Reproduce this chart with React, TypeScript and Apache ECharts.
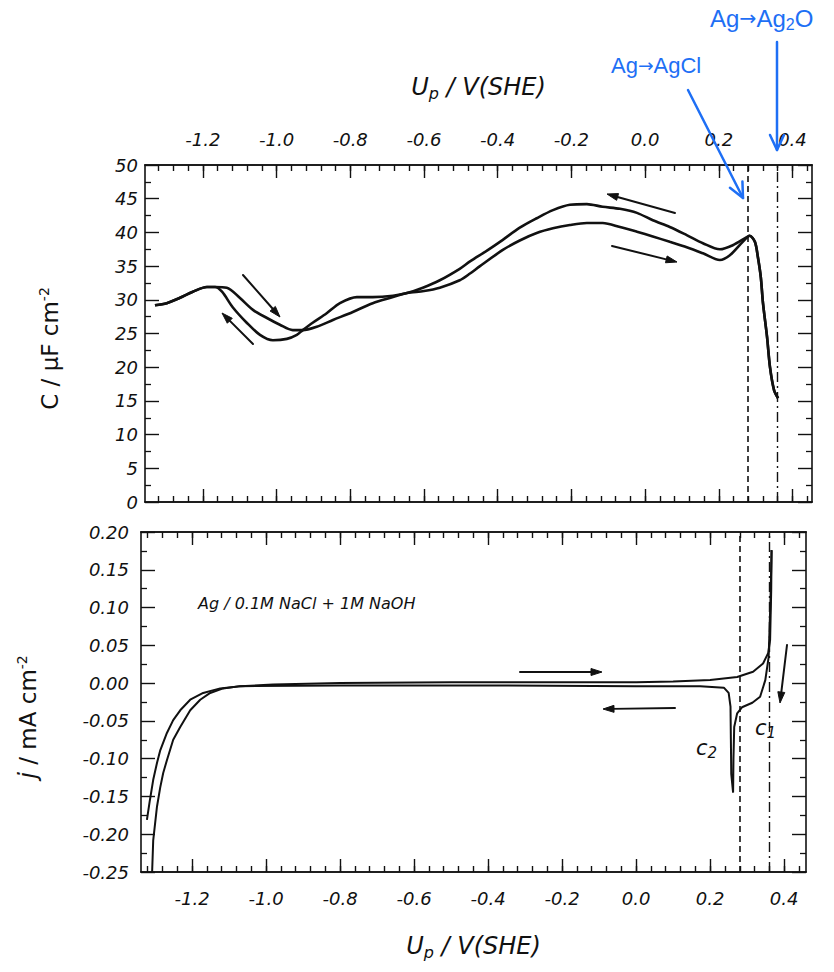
import React, { useEffect, useRef } from "react";
import * as echarts from "echarts";

// ---------- data ----------
const xMajorTicks = [-1.2, -1.0, -0.8, -0.6, -0.4, -0.2, 0.0, 0.2, 0.4];
const xMinorTicks = [
  -1.32, -1.28, -1.24, -1.2, -1.16, -1.12, -1.08, -1.04, -1.0, -0.96, -0.92, -0.88, -0.84, -0.8,
  -0.76, -0.72, -0.68, -0.64, -0.6, -0.56, -0.52, -0.48, -0.44, -0.4, -0.36, -0.32, -0.28, -0.24,
  -0.2, -0.16, -0.12, -0.08, -0.04, 0.0, 0.04, 0.08, 0.12, 0.16, 0.2, 0.24, 0.28, 0.32, 0.36, 0.4, 0.44,
];

// Capacitance C / µF cm^-2 vs U_p / V(SHE)
const capAnodic: [number, number][] = [
  [-1.33, 29.2], [-1.298, 29.5], [-1.262, 30.3], [-1.227, 31.2], [-1.189, 31.9], [-1.167, 31.9],
  [-1.135, 31.8], [-1.1, 30.3], [-1.064, 28.5], [-1.026, 27.3], [-0.991, 26.3], [-0.956, 25.5],
  [-0.929, 25.5], [-0.891, 26.0], [-0.847, 27.0], [-0.793, 28.2], [-0.739, 29.5], [-0.684, 30.4],
  [-0.646, 31.0], [-0.6, 31.3], [-0.557, 31.8], [-0.503, 32.9], [-0.475, 33.9], [-0.448, 35.0],
  [-0.386, 37.4], [-0.34, 38.8], [-0.294, 39.9], [-0.25, 40.6], [-0.204, 41.1], [-0.158, 41.4],
  [-0.115, 41.4], [-0.068, 40.8], [-0.022, 40.1], [0.021, 39.4], [0.067, 38.6], [0.113, 37.8],
  [0.157, 36.9], [0.203, 35.9], [0.23, 36.6], [0.265, 38.6], [0.284, 39.5], [0.298, 38.6],
  [0.306, 36.4], [0.314, 33.4], [0.32, 29.5], [0.331, 24.5], [0.339, 20.0], [0.35, 16.6], [0.361, 15.4],
];
const capCathodic: [number, number][] = [
  [-1.33, 29.2], [-1.298, 29.5], [-1.262, 30.3], [-1.227, 31.2], [-1.189, 31.9], [-1.167, 31.9],
  [-1.148, 31.2], [-1.119, 28.9], [-1.081, 26.6], [-1.045, 24.8], [-1.01, 24.0], [-0.972, 24.2],
  [-0.945, 24.8], [-0.929, 25.5], [-0.902, 26.6], [-0.864, 28.0], [-0.828, 29.5], [-0.782, 30.4],
  [-0.739, 30.4], [-0.684, 30.6], [-0.646, 31.0], [-0.603, 31.8], [-0.557, 32.9], [-0.503, 34.6],
  [-0.475, 35.7], [-0.429, 37.3], [-0.386, 38.9], [-0.34, 40.7], [-0.294, 42.1], [-0.25, 43.3],
  [-0.204, 44.1], [-0.158, 44.2], [-0.115, 43.8], [-0.068, 43.5], [-0.022, 42.9], [0.021, 41.8],
  [0.067, 40.8], [0.113, 39.6], [0.157, 38.4], [0.203, 37.5], [0.238, 38.1], [0.276, 39.3],
  [0.284, 39.5], [0.298, 38.6], [0.306, 36.4], [0.314, 33.4], [0.32, 29.5], [0.331, 24.5],
  [0.339, 20.0], [0.35, 16.6], [0.361, 15.4],
];

// Current density j / mA cm^-2 vs U_p / V(SHE)
const curAnodic: [number, number][] = [
  [-1.322, -0.181], [-1.314, -0.155], [-1.305, -0.128], [-1.295, -0.106], [-1.286, -0.089],
  [-1.268, -0.066], [-1.251, -0.049], [-1.232, -0.036], [-1.205, -0.022], [-1.17, -0.013],
  [-1.124, -0.007], [-1.07, -0.004], [-0.981, -0.002], [-0.8, 0.0], [-0.5, 0.001], [-0.2, 0.001],
  [0.0, 0.001], [0.1, 0.002], [0.2, 0.004], [0.273, 0.008], [0.316, 0.015], [0.343, 0.026],
  [0.357, 0.04], [0.362, 0.057], [0.365, 0.123], [0.366, 0.176],
];
const curCathodic: [number, number][] = [
  [0.366, 0.176], [0.363, 0.11], [0.358, 0.034], [0.349, 0.004], [0.335, -0.018], [0.314, -0.026],
  [0.286, -0.032], [0.273, -0.04], [0.265, -0.058], [0.263, -0.1], [0.262, -0.145], [0.257, -0.12],
  [0.256, -0.075], [0.255, -0.031], [0.25, -0.013], [0.237, -0.006], [0.173, -0.004], [0.0, -0.004],
  [-0.4, -0.003], [-0.8, -0.003], [-1.07, -0.004], [-1.116, -0.007], [-1.151, -0.013],
  [-1.178, -0.022], [-1.205, -0.036], [-1.232, -0.058], [-1.251, -0.075], [-1.268, -0.102],
  [-1.278, -0.119], [-1.286, -0.138], [-1.295, -0.164], [-1.305, -0.208], [-1.308, -0.251],
];

const agclPotential = 0.28; // Ag -> AgCl (dashed)
const ag2oPotential = 0.356; // Ag -> Ag2O (dash-dot)

const topXRange = [-1.357, 0.453];
const botXRange = [-1.338, 0.459];

// ---------- helpers ----------
const FONT = "DejaVu Sans";
const BLUE_FONT = "Liberation Sans";
const BLUE = "#1e6ff5";

function arrow(x1: number, y1: number, x2: number, y2: number, o: any) {
  const dx = x2 - x1, dy = y2 - y1;
  const L = Math.hypot(dx, dy);
  const ux = dx / L, uy = dy / L;
  const bx = x2 - ux * o.head, by = y2 - uy * o.head;
  const px = -uy * o.half, py = ux * o.half;
  const els: any[] = [];
  const ex = o.open ? x2 : bx + ux * 2;
  const ey = o.open ? y2 : by + uy * 2;
  els.push({ type: "line", z: 100, shape: { x1, y1, x2: ex, y2: ey }, style: { stroke: o.color, lineWidth: o.width, lineCap: "round" } });
  const pts = [[bx + px, by + py], [x2, y2], [bx - px, by - py]];
  if (o.open) {
    els.push({ type: "polyline", z: 100, shape: { points: pts }, style: { stroke: o.color, lineWidth: o.width, fill: null, lineCap: "round", lineJoin: "round" } });
  } else {
    els.push({ type: "polygon", z: 100, shape: { points: pts }, style: { fill: o.color, stroke: o.color, lineWidth: 1 } });
  }
  return els;
}

const tickLabel = { fontFamily: FONT, fontStyle: "italic", fontSize: 18, color: "#111" };

function xAxis(gridIndex: number, position: string, range: number[], ticks: number[], len: number, labels: boolean, extra: any = {}) {
  return {
    type: "value", gridIndex, position, min: range[0], max: range[1],
    axisLine: { show: true, onZero: false, lineStyle: { color: "#111", width: 1.6 } },
    axisTick: { show: true, inside: true, length: len, customValues: ticks, lineStyle: { color: "#111", width: 1.4 } },
    axisLabel: labels
      ? { show: true, customValues: xMajorTicks, margin: 17, formatter: (v: number) => (Math.abs(v) < 1e-9 ? "0.0" : v.toFixed(1)), ...tickLabel }
      : { show: false },
    splitLine: { show: false },
    ...extra,
  };
}

function yAxis(gridIndex: number, position: string, min: number, max: number, interval: number, labels: boolean, digits: number, margin: number, extra: any = {}) {
  return {
    type: "value", gridIndex, position, min, max, interval,
    axisLine: { show: true, onZero: false, lineStyle: { color: "#111", width: 1.6 } },
    axisTick: { show: true, inside: true, length: 14, lineStyle: { color: "#111", width: 1.4 } },
    minorTick: { show: true, splitNumber: 2, length: 6, lineStyle: { color: "#111", width: 1.3 } },
    axisLabel: labels
      ? { show: true, margin, formatter: (v: number) => (Math.abs(v) < 1e-9 ? (0).toFixed(digits) : v.toFixed(digits)), ...tickLabel }
      : { show: false },
    splitLine: { show: false },
    minorSplitLine: { show: false },
    ...extra,
  };
}

const nameRich = {
  a: { fontFamily: FONT, fontSize: 23, color: "#111" },
  ai: { fontFamily: FONT, fontSize: 24, fontStyle: "italic", color: "#111" },
  sub: { fontFamily: FONT, fontSize: 16, fontStyle: "italic", color: "#111", padding: [12, 0, 0, 0] },
  sup: { fontFamily: FONT, fontSize: 14, color: "#111", padding: [0, 0, 12, 0] },
  gap: { width: 30 },
};

export default function App() {
  const ref = useRef<HTMLDivElement>(null);
  useEffect(() => {
    if (!ref.current) return;
    const chart = echarts.init(ref.current, undefined, { renderer: "svg" });
    const lineStyleTop = { color: "#111", width: 2.6 };
    const lineStyleBot = { color: "#111", width: 2 };
    const markLines = {
      silent: true, symbol: "none", label: { show: false },
      data: [
        { xAxis: agclPotential, lineStyle: { color: "#111", width: 1.6, type: [6, 4] } },
        { xAxis: ag2oPotential, lineStyle: { color: "#111", width: 1.4, type: [10, 4, 2, 4] } },
      ],
    };
    const blueRich = (size: number, subSize: number) => ({
      a: { fontFamily: BLUE_FONT, fontSize: size, fill: BLUE },
      r: { fontFamily: "DejaVu Sans", fontSize: size * 0.85, fill: BLUE },
      s: { fontFamily: BLUE_FONT, fontSize: subSize, fill: BLUE, padding: [12, 0, 0, 0] },
    });
    const graphic: any[] = [
      // blue annotations
      {
        type: "text", left: 710, top: 6, z: 100,
        style: { text: "{a|Ag}{r|→}{a|Ag}{s|2}{a|O}", fill: BLUE, rich: blueRich(24, 16) },
      },
      {
        type: "text", left: 611, top: 54, z: 100,
        style: { text: "{a|Ag}{r|→}{a|AgCl}", fill: BLUE, rich: blueRich(22, 15) },
      },
      ...arrow(777, 42, 777, 150, { color: BLUE, width: 2.5, head: 15, half: 7, open: true }),
      ...arrow(688, 90, 743, 198, { color: BLUE, width: 2.5, head: 15, half: 7, open: true }),
      // scan direction arrows
      ...arrow(243, 275, 280, 317, { color: "#111", width: 2, head: 11, half: 3.5 }),
      ...arrow(253, 344, 222, 313, { color: "#111", width: 2, head: 11, half: 3.5 }),
      ...arrow(675, 213, 607, 194, { color: "#111", width: 2, head: 11, half: 3.5 }),
      ...arrow(612, 246, 677, 262, { color: "#111", width: 2, head: 11, half: 3.5 }),
      ...arrow(520, 672, 602, 672, { color: "#111", width: 2, head: 11, half: 3.5 }),
      ...arrow(675, 708, 603, 709, { color: "#111", width: 2, head: 11, half: 3.5 }),
      ...arrow(787, 645, 780, 703, { color: "#111", width: 2, head: 11, half: 3.5 }),
      // text annotations
      {
        type: "text", left: 198, top: 595, z: 100,
        style: { text: "Ag / 0.1M NaCl + 1M NaOH", fill: "#111", font: `italic 16px "${FONT}"` },
      },
      {
        type: "text", left: 696, top: 737, z: 100,
        style: {
          text: "{c|c}{n|2}",
          rich: {
            c: { fontFamily: FONT, fontStyle: "italic", fontSize: 21, fill: "#111" },
            n: { fontFamily: FONT, fontStyle: "italic", fontSize: 15, fill: "#111", padding: [10, 0, 0, 0] },
          },
        },
      },
      {
        type: "text", left: 755, top: 717, z: 100,
        style: {
          text: "{c|c}{n|1}",
          rich: {
            c: { fontFamily: FONT, fontStyle: "italic", fontSize: 21, fill: "#111" },
            n: { fontFamily: FONT, fontStyle: "italic", fontSize: 15, fill: "#111", padding: [10, 0, 0, 0] },
          },
        },
      },
    ];

    const option: any = {
      animation: false,
      backgroundColor: "#fff",
      grid: [
        { left: 145, top: 165, width: 667, height: 337, containLabel: false },
        { left: 141, top: 532, width: 665, height: 340, containLabel: false },
      ],
      xAxis: [
        xAxis(0, "top", topXRange, xMajorTicks, 13, true, {
          name: "{ai|U}{sub|p}{ai| / V(SHE)}", nameLocation: "middle", nameGap: 64,
          nameTextStyle: { rich: nameRich },
        }),
        xAxis(0, "top", topXRange, xMinorTicks, 6, false),
        xAxis(0, "bottom", topXRange, xMajorTicks, 13, false),
        xAxis(0, "bottom", topXRange, xMinorTicks, 6, false),
        xAxis(1, "bottom", botXRange, xMajorTicks, 13, true, {
          name: "{ai|U}{sub|p}{ai| / V(SHE)}", nameLocation: "middle", nameGap: 60,
          nameTextStyle: { rich: nameRich },
        }),
        xAxis(1, "bottom", botXRange, xMinorTicks, 6, false),
        xAxis(1, "top", botXRange, xMajorTicks, 13, false),
        xAxis(1, "top", botXRange, xMinorTicks, 6, false),
      ],
      yAxis: [
        yAxis(0, "left", 0, 50, 5, true, 0, 7, {
          name: "{a|C / μF cm}{sup|-2}{gap|}", nameLocation: "middle", nameRotate: 90, nameGap: 82,
          nameTextStyle: { rich: nameRich },
        }),
        yAxis(0, "right", 0, 50, 5, false, 0, 7),
        yAxis(1, "left", -0.25, 0.2, 0.05, true, 2, 12, {
          name: "{ai|j}{a| / mA cm}{sup|-2}{gap|}", nameLocation: "middle", nameRotate: 90, nameGap: 100,
          nameTextStyle: { rich: nameRich },
        }),
        yAxis(1, "right", -0.25, 0.2, 0.05, false, 2, 12),
      ],
      series: [
        {
          name: "C anodic", type: "line", xAxisIndex: 0, yAxisIndex: 0, data: capAnodic,
          showSymbol: false, smooth: 0.3, lineStyle: lineStyleTop, markLine: markLines,
        },
        {
          name: "C cathodic", type: "line", xAxisIndex: 0, yAxisIndex: 0, data: capCathodic,
          showSymbol: false, smooth: 0.3, lineStyle: lineStyleTop,
        },
        {
          name: "j anodic", type: "line", xAxisIndex: 4, yAxisIndex: 2, data: curAnodic,
          showSymbol: false, smooth: false, lineStyle: lineStyleBot, markLine: markLines,
        },
        {
          name: "j cathodic", type: "line", xAxisIndex: 4, yAxisIndex: 2, data: curCathodic,
          showSymbol: false, smooth: false, lineStyle: lineStyleBot,
        },
      ],
      graphic,
    };
    chart.setOption(option);
    return () => chart.dispose();
  }, []);
  return (
    <div
      ref={ref}
      style={{ position: "fixed", left: 0, top: 0, width: 834, height: 972, background: "#fff" }}
    />
  );
}
